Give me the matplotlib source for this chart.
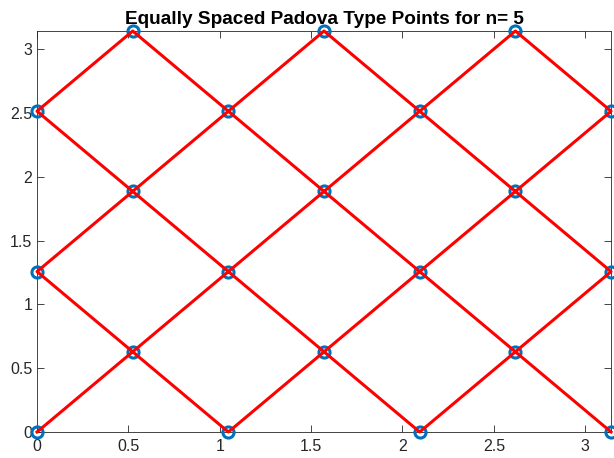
import numpy as np
import matplotlib.pyplot as plt

plt.rcParams['font.family'] = ['Liberation Sans', 'DejaVu Sans']

n = 5
# grid values of the Padova type points
x_grid = np.arange(n + 2) * np.pi / (n + 1)
y_grid = np.arange(n + 1) * np.pi / n

# path of the generating curve (indices into x_grid, y_grid)
path_i = [0, 1, 2, 3, 4, 5, 6, 5, 4, 3, 2, 1, 0, 1, 2, 3, 4, 5, 6, 5, 4, 3, 2, 1, 0, 1, 2, 3, 4, 5, 6]
path_j = [0, 1, 2, 3, 4, 5, 4, 3, 2, 1, 0, 1, 2, 3, 4, 5, 4, 3, 2, 1, 0, 1, 2, 3, 4, 5, 4, 3, 2, 1, 0]

# points where i + j is even
pts_x = [x_grid[i] for i in range(n + 2) for j in range(n + 1) if (i + j) % 2 == 0]
pts_y = [y_grid[j] for i in range(n + 2) for j in range(n + 1) if (i + j) % 2 == 0]

fig = plt.figure(figsize=(6.14, 4.58), dpi=100)
ax = fig.add_axes([0.0603, 0.0568, 0.9349, 0.8755])

ax.plot(pts_x, pts_y, 'o', ms=8, mfc='none', mec=(0, 0.447, 0.741), mew=2.2, clip_on=False, zorder=3)
ax.plot(x_grid[path_i], y_grid[path_j], '-', color='red', lw=2.2, clip_on=False, zorder=4)

ax.set_xlim(0, np.pi)
ax.set_ylim(0, np.pi)
ax.set_xticks(np.arange(0, 3.01, 0.5))
ax.set_yticks(np.arange(0, 3.01, 0.5))
ax.set_xticklabels(['0', '0.5', '1', '1.5', '2', '2.5', '3'])
ax.set_yticklabels(['0', '0.5', '1', '1.5', '2', '2.5', '3'])
ax.tick_params(direction='in', top=True, right=True, labelsize=11.5, colors='#262626', length=5, width=0.6)
ax.tick_params(axis='x', pad=5)
for s in ax.spines.values():
    s.set_color('#262626')
    s.set_linewidth(0.6)
ax.set_title('Equally Spaced Padova Type Points for n= 5', fontsize=13.7, fontweight='bold', pad=5)

fig.savefig('out.png', dpi=100)
